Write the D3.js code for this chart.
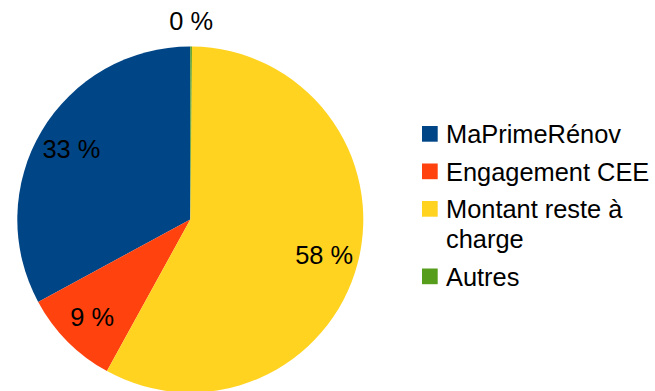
<!DOCTYPE html>
<html>
<head>
<meta charset="utf-8">
<script src="https://cdn.jsdelivr.net/npm/d3@7"></script>
<style>
  html, body { margin: 0; padding: 0; background: #ffffff; }
  svg { display: block; }
  text { font-family: "Liberation Sans", Arial, sans-serif; fill: #000; }
</style>
</head>
<body>
<svg id="chart" width="655" height="391"></svg>
<script>
// Répartition du financement (en %)
const categories = ["MaPrimeRénov", "Engagement CEE", "Montant reste à charge", "Autres"];
const values = [32.9, 9.1, 57.85, 0.15];
const colors = ["#004586", "#ff420e", "#ffd320", "#579d1c"];
const legendLines = [["MaPrimeRénov"], ["Engagement CEE"], ["Montant reste à", "charge"], ["Autres"]];

const width = 655, height = 391;
const cx = 190.3, cy = 219.5, radius = 173;
const fontSize = 25.4;

const svg = d3.select("#chart");

const total = d3.sum(values);
const data = categories.map((c, i) => ({ name: c, value: values[i], color: colors[i], lines: legendLines[i] }));

// Slices run counter-clockwise from 12 o'clock
const pie = d3.pie().sort(null).value(d => d.value)
  .startAngle(0).endAngle(-2 * Math.PI);
const arcs = pie(data);

const arc = d3.arc().innerRadius(0).outerRadius(radius);

const g = svg.append("g").attr("transform", `translate(${cx},${cy})`);

g.selectAll("path.slice")
  .data(arcs)
  .join("path")
  .attr("class", "slice")
  .attr("d", arc)
  .attr("fill", d => d.data.color);

// Percentage labels: inside for normal slices, outside for very thin ones
const fmt = v => `${Math.round(v / total * 100)} %`;
g.selectAll("text.pct")
  .data(arcs)
  .join("text")
  .attr("class", "pct")
  .attr("transform", d => {
    const small = d.data.value / total < 0.01;
    const r = small ? radius + 26 : radius * 0.8;
    const a = (d.startAngle + d.endAngle) / 2;
    return `translate(${Math.sin(a) * r},${-Math.cos(a) * r})`;
  })
  .attr("text-anchor", "middle")
  .attr("dominant-baseline", "central")
  .attr("font-size", fontSize)
  .text(d => fmt(d.data.value));

// Legend
const legendX = 422, legendY0 = 126, rowGap = 37.5, lineGap = 30, box = 15.7;
const legend = svg.append("g");
let y = legendY0;
data.forEach(d => {
  const row = legend.append("g").attr("transform", `translate(${legendX},${y})`);
  row.append("rect")
    .attr("width", box).attr("height", box)
    .attr("fill", d.color);
  const t = row.append("text")
    .attr("x", 24)
    .attr("y", 17.3)
    .attr("font-size", fontSize);
  d.lines.forEach((ln, k) => {
    t.append("tspan").attr("x", 24).attr("dy", k === 0 ? 0 : lineGap).text(ln);
  });
  y += rowGap + (d.lines.length - 1) * lineGap;
});
</script>
</body>
</html>
